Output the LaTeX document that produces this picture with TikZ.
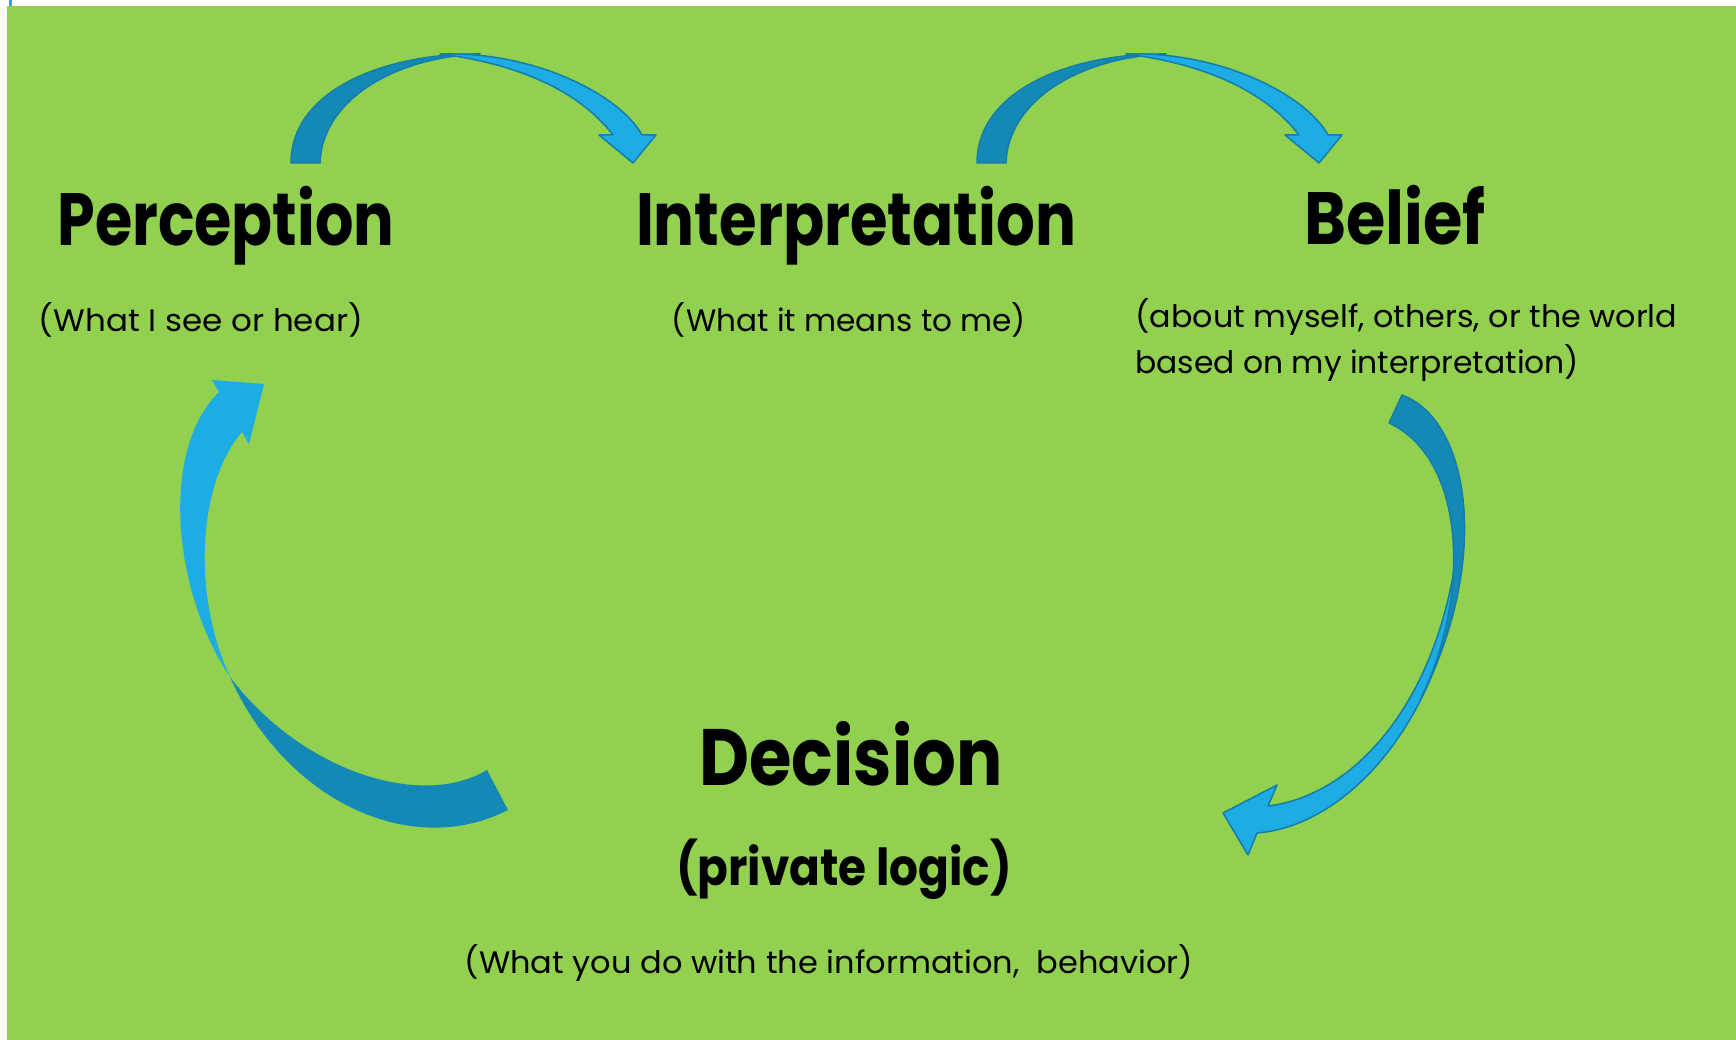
\documentclass[tikz,border=0pt]{standalone}
\usepackage{fontspec}
\setmainfont{Poppins}
\usepackage{graphicx}
\definecolor{leaf}{RGB}{146,208,80}
\definecolor{skylight}{RGB}{29,172,227}
\definecolor{skydark}{RGB}{21,137,182}
\definecolor{skyedge}{RGB}{20,125,168}
% text squeezed to a given width, height kept
\newcommand{\fitw}[2]{\resizebox{#1pt}{\height}{#2}}
\tikzset{
  title/.style={anchor=base, inner sep=0pt, font=\bfseries\fontsize{74}{80}\selectfont},
  sub/.style={anchor=base, inner sep=0pt, font=\fontsize{31}{36}\selectfont},
  back/.style={fill=skydark, draw=skyedge, line width=1.5pt, line join=round},
  front/.style={fill=skylight, draw=skyedge, line width=1.5pt, line join=round}
}
\begin{document}
\begin{tikzpicture}[x=1pt, y=-1pt]
\useasboundingbox (0,0) rectangle (1736,1040);
\fill[white] (0,0) rectangle (1736,1040);
\fill[leaf] (7,6) rectangle (1736,1040);
\fill[skylight] (9,0) rectangle (12,6);

% titles
\node[title] (perc) at (226,246) {\fitw{337}{Perception}};
\node[title] (interp) at (856,246) {\fitw{440}{Interpretation}};
\node[title] (belief) at (1395,245) {\fitw{181}{Belief}};
\node[title, font=\bfseries\fontsize{80}{86}\selectfont] (dec) at (851,785) {\fitw{303}{Decision}};

% explanations
\node[sub] (percsub) at (201,332) {\fitw{324}{(What I see or hear)}};
\node[sub] (interpsub) at (849,332) {\fitw{354}{(What it means to me)}};
\node[sub, anchor=base west] (beliefsub) at (1135,327) {\fitw{542}{(about myself, others, or the world}};
\node[sub, anchor=base west] (beliefsubb) at (1135,373) {\fitw{444}{based on my interpretation)}};
\node[sub, font=\bfseries\fontsize{51}{56}\selectfont] (logic) at (844,885) {\fitw{336}{(private logic)}};
\node[sub] (decsub) at (829,973) {\fitw{729}{(What you do with the information,\ \ behavior)}};

% top arrows
\foreach \dx in {0,686}
{
  \begin{scope}[xshift=\dx]
    \draw[back] (291,163) .. controls (291,90) and (385,53) .. (480,54)
      .. controls (395,57) and (322,100) .. (320,163) -- cycle;
    \draw[front] (440,54) .. controls (535,51) and (620,95) .. (642,135)
      -- (656,135) -- (633,163) -- (599,135) -- (613,135)
      .. controls (580,92) and (520,64) .. (440,54) -- cycle;
  \end{scope}
}

% left arrow, back to perception
\fill[skylight] (212,380) -- (264,384) -- (249,444) -- (242,432)
  .. controls (200,480) and (190,590) .. (230,677)
  .. controls (172,590) and (160,450) .. (219,392) -- cycle;
\fill[skydark] (230,677) .. controls (285,800) and (410,860) .. (508,810)
  -- (487,770) .. controls (420,810) and (300,770) .. (230,677) -- cycle;

% right arrow, down to decision
\draw[front] (1460,520) .. controls (1464,690) and (1360,825) .. (1257,833)
  -- (1248,855) -- (1223,813) -- (1277,785) -- (1268,806)
  .. controls (1360,795) and (1448,690) .. (1460,520) -- cycle;
\draw[back] (1402,395) .. controls (1470,420) and (1492,560) .. (1420,700)
  .. controls (1470,600) and (1468,460) .. (1389,423) -- cycle;
\end{tikzpicture}
\end{document}
